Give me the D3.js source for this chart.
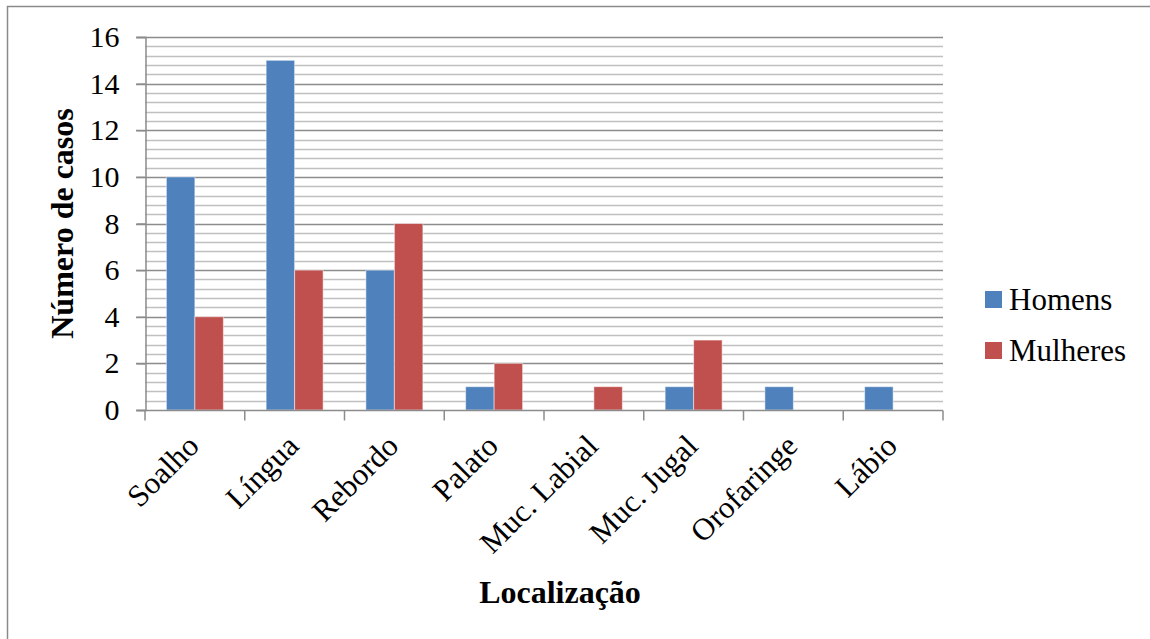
<!DOCTYPE html>
<html>
<head>
<meta charset="utf-8">
<script src="https://cdn.jsdelivr.net/npm/d3@7"></script>
<style>
  body { margin: 0; background: #fff; }
  svg { display: block; }
  svg text { font-family: "Liberation Serif", "Times New Roman", serif; }
</style>
</head>
<body>
<svg id="chart" width="1150" height="639"></svg>
<script>
const categories = ['Soalho', 'Língua', 'Rebordo', 'Palato', 'Muc. Labial', 'Muc. Jugal', 'Orofaringe', 'Lábio'];
const homens = [10, 15, 6, 1, 0, 1, 1, 1];
const mulheres = [4, 6, 8, 2, 1, 3, 0, 0];
const seriesNames = ['Homens', 'Mulheres'];
const yTicks = [0, 2, 4, 6, 8, 10, 12, 14, 16];

const COLORS = ['#4F81BD', '#C0504D'];
const MAJOR_GRID = '#8c8c8c';
const MINOR_GRID = '#c0c0c0';
const SERIF = '"Liberation Serif", "Times New Roman", serif';

const svg = d3.select('#chart');

// outer frame (right and bottom fall outside the picture)
svg.append('rect')
  .attr('x', 7.5).attr('y', 6.5)
  .attr('width', 1160).attr('height', 660)
  .attr('fill', 'none')
  .attr('stroke', '#8a8a8a')
  .attr('stroke-width', 1.5);

const plot = { left: 145, right: 943, top: 37, bottom: 410 };

const x = d3.scaleBand()
  .domain(categories)
  .range([plot.left, plot.right]);

const y = d3.scaleLinear()
  .domain([0, 16])
  .range([plot.bottom, plot.top]);

const g = svg.append('g');

// minor grid every 0.4
const minor = d3.range(0, 16.001, 0.4).filter(v => Math.abs(v / 2 - Math.round(v / 2)) > 1e-6);
g.selectAll('line.minor')
  .data(minor)
  .join('line')
  .attr('class', 'minor')
  .attr('x1', plot.left).attr('x2', plot.right)
  .attr('y1', d => Math.round(y(d)) + 0.5)
  .attr('y2', d => Math.round(y(d)) + 0.5)
  .attr('stroke', MINOR_GRID)
  .attr('stroke-width', 1.5);

// major grid
g.selectAll('line.major')
  .data(yTicks.filter(d => d > 0))
  .join('line')
  .attr('class', 'major')
  .attr('x1', plot.left - 9).attr('x2', plot.right)
  .attr('y1', d => Math.round(y(d)) + 0.5)
  .attr('y2', d => Math.round(y(d)) + 0.5)
  .attr('stroke', MAJOR_GRID)
  .attr('stroke-width', 1.5);

// bars
const sub = d3.scaleBand()
  .domain(seriesNames)
  .range([0, x.bandwidth()])
  .paddingOuter(0.75);

const rows = categories.map((c, i) => ({ cat: c, values: [homens[i], mulheres[i]] }));

g.selectAll('g.group')
  .data(rows)
  .join('g')
  .attr('class', 'group')
  .attr('transform', d => `translate(${x(d.cat)},0)`)
  .selectAll('rect')
  .data(d => d.values.map((v, k) => ({ v, k })))
  .join('rect')
  .filter(d => d.v > 0)
  .attr('x', d => sub(seriesNames[d.k]))
  .attr('width', sub.bandwidth())
  .attr('y', d => y(d.v))
  .attr('height', d => y(0) - y(d.v))
  .attr('fill', d => COLORS[d.k])
  .attr('stroke', '#ffffff')
  .attr('stroke-opacity', 0.5)
  .attr('stroke-width', 1);

// y axis
const yAxis = g.append('g')
  .attr('transform', `translate(${plot.left + 0.5},0)`)
  .call(d3.axisLeft(y).tickValues(yTicks).tickSize(9).tickPadding(17));
yAxis.attr('font-family', SERIF).attr('font-size', 30);
yAxis.select('.domain').attr('stroke', MAJOR_GRID).attr('stroke-width', 1.5);
yAxis.selectAll('.tick line').attr('stroke', MAJOR_GRID).attr('stroke-width', 1.5);
yAxis.selectAll('.tick text')
  .attr('font-family', SERIF)
  .attr('font-size', 30)
  .attr('fill', '#000');

// x axis
const xAxis = g.append('g')
  .attr('transform', `translate(0,${plot.bottom + 0.5})`)
  .call(d3.axisBottom(x).tickSize(0).tickFormat(''));
xAxis.select('.domain').attr('stroke', MAJOR_GRID).attr('stroke-width', 1.5)
  .attr('d', `M${plot.left - 9},0H${plot.right}`);
xAxis.selectAll('.tick').remove();

const boundaries = d3.range(categories.length + 1).map(i => plot.left + i * x.step());
xAxis.selectAll('line.cat')
  .data(boundaries)
  .join('line')
  .attr('class', 'cat')
  .attr('x1', d => d).attr('x2', d => d)
  .attr('y1', 0).attr('y2', 10)
  .attr('stroke', MAJOR_GRID)
  .attr('stroke-width', 1.5);

// category labels, rotated
svg.append('g')
  .selectAll('text')
  .data(categories)
  .join('text')
  .attr('transform', d => `translate(${x(d) + x.bandwidth() / 2 - 4},${plot.bottom + 28}) rotate(-45)`)
  .attr('text-anchor', 'end')
  .attr('dy', '0.45em')
  .attr('font-family', SERIF)
  .attr('font-size', 31)
  .attr('fill', '#000')
  .text(d => d);

// axis titles
svg.append('text')
  .attr('transform', `translate(73,${(plot.top + plot.bottom) / 2}) rotate(-90)`)
  .attr('text-anchor', 'middle')
  .attr('font-family', SERIF)
  .attr('font-size', 32)
  .attr('font-weight', 'bold')
  .attr('fill', '#000')
  .text('Número de casos');

svg.append('text')
  .attr('x', 560).attr('y', 603)
  .attr('text-anchor', 'middle')
  .attr('font-family', SERIF)
  .attr('font-size', 32)
  .attr('font-weight', 'bold')
  .attr('fill', '#000')
  .text('Localização');

// legend
const legend = svg.append('g').attr('transform', 'translate(985,291)');
const items = legend.selectAll('g')
  .data(seriesNames)
  .join('g')
  .attr('transform', (d, i) => `translate(0,${i * 51})`);
items.append('rect')
  .attr('width', 17).attr('height', 17)
  .attr('fill', (d, i) => COLORS[i]);
items.append('text')
  .attr('x', 24).attr('y', 19)
  .attr('font-family', SERIF)
  .attr('font-size', 31)
  .attr('fill', '#000')
  .text(d => d);
</script>
</body>
</html>
